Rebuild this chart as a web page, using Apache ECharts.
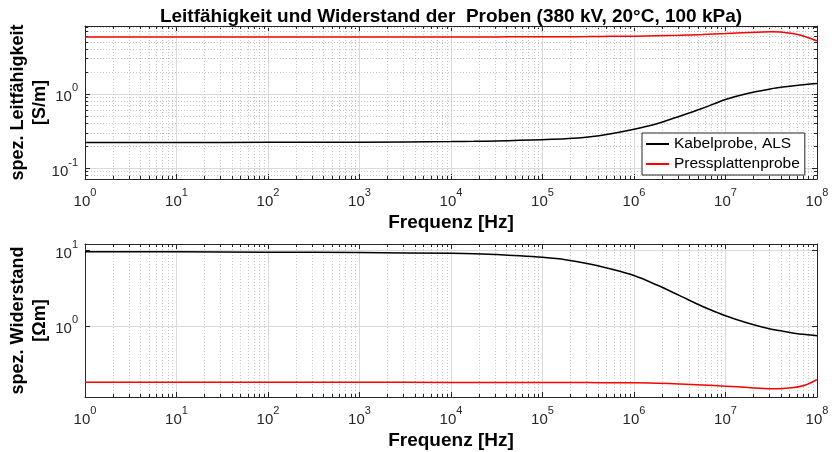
<!DOCTYPE html>
<html><head><meta charset="utf-8">
<script src="https://cdn.jsdelivr.net/npm/echarts@6/dist/echarts.min.js"></script>
<style>html,body{margin:0;padding:0;background:#fff}#c{width:832px;height:452px}</style>
</head><body><div id="c"></div>
<script>
// ---- data ----
const titleText = 'Leitfähigkeit und Widerstand der  Proben (380 kV, 20°C, 100 kPa)';
const seriesNames = ['Kabelprobe, ALS', 'Pressplattenprobe'];
const freq = [1, 10, 100, 1e3, 1e4, 1.78e4, 3.16e4, 5.62e4, 1e5, 1.78e5, 3.16e5, 5.62e5, 1e6, 1.78e6, 3.16e6, 5.62e6, 1e7, 1.78e7, 3.16e7, 4.22e7, 5.62e7, 7.5e7, 1e8];
// spez. Leitfähigkeit [S/m]
const condKabel = [0.221, 0.221, 0.222, 0.223, 0.227, 0.229, 0.232, 0.236, 0.241, 0.248, 0.262, 0.290, 0.333, 0.396, 0.50, 0.64, 0.84, 1.02, 1.17, 1.235, 1.29, 1.34, 1.38];
const condPress = [5.85, 5.85, 5.85, 5.85, 5.85, 5.85, 5.86, 5.87, 5.88, 5.90, 5.92, 5.96, 6.00, 6.06, 6.15, 6.30, 6.50, 6.72, 6.85, 6.78, 6.45, 5.90, 5.20];
// spez. Widerstand [Ohm m]
const resKabel = [9.5, 9.45, 9.35, 9.25, 9.05, 8.95, 8.7, 8.4, 8.0, 7.45, 6.6, 5.6, 4.6, 3.45, 2.5, 1.8, 1.36, 1.08, 0.90, 0.85, 0.80, 0.765, 0.74];
const resPress = [0.180, 0.180, 0.180, 0.180, 0.179, 0.179, 0.179, 0.179, 0.179, 0.178, 0.178, 0.177, 0.177, 0.175, 0.171, 0.166, 0.160, 0.153, 0.148, 0.149, 0.154, 0.166, 0.195];
// axis limits
const xLim = [1, 1e8];
const yLimCond = [0.0711, 8.22];
const yLimRes = [0.115, 12];
// minor grid positions (log decades)
const minorMult = [2, 3, 4, 5, 6, 7, 8, 9];
const xDecades = [1, 10, 100, 1e3, 1e4, 1e5, 1e6, 1e7];
const yDecadesCond = [0.01, 0.1, 1];

const FONT = 'Liberation Sans, Arial, Helvetica, sans-serif';
const AX = '#262626';

const xMinor = [];
xDecades.forEach(d => minorMult.forEach(m => xMinor.push(d * m)));
const yMinorCond = [];
yDecadesCond.forEach(d => minorMult.forEach(m => { const v = d * m; if (v > yLimCond[0] && v < yLimCond[1]) yMinorCond.push(v); }));

function powLabel(v) {
  const e = Math.log10(v); const r = Math.round(e);
  if (Math.abs(e - r) > 1e-6) return '';
  return '{b|10}{s|' + r + '}';
}
const rich = {
  b: {fontSize: 15, lineHeight: 22, verticalAlign: 'bottom', color: AX, fontFamily: FONT},
  s: {fontSize: 11, lineHeight: 11, verticalAlign: 'top', color: AX, fontFamily: FONT}
};
const nameStyle = {fontSize: 18, fontWeight: 'bold', color: '#000', fontFamily: FONT, lineHeight: 22};
const xNameStyle = {fontSize: 19, fontWeight: 'bold', color: '#000', fontFamily: FONT};

function xMain(g) {
  return {type: 'log', logBase: 10, gridIndex: g, min: xLim[0], max: xLim[1], position: 'bottom',
    axisLine: {show: true, onZero: false, lineStyle: {color: AX, width: 1}},
    axisTick: {show: true, inside: true, length: 5, lineStyle: {color: AX}},
    axisLabel: {formatter: powLabel, margin: 8, rich: rich},
    splitLine: {show: true, lineStyle: {color: '#dadada', width: 1}},
    name: 'Frequenz [Hz]', nameLocation: 'middle', nameGap: 34, nameMoveOverlap: false, nameTextStyle: xNameStyle};
}
function xTop(g) {
  return {type: 'log', logBase: 10, gridIndex: g, min: xLim[0], max: xLim[1], position: 'top',
    axisLine: {show: true, onZero: false, lineStyle: {color: AX, width: 1}},
    axisTick: {show: true, inside: true, length: 5, lineStyle: {color: AX}},
    axisLabel: {show: false}, splitLine: {show: false}};
}
function yMain(g, lim, name) {
  return {type: 'log', logBase: 10, gridIndex: g, min: lim[0], max: lim[1], position: 'left',
    axisLine: {show: true, onZero: false, lineStyle: {color: AX, width: 1}},
    axisTick: {show: true, inside: true, length: 5, lineStyle: {color: AX}},
    axisLabel: {formatter: powLabel, margin: 7, rich: rich},
    splitLine: {show: true, lineStyle: {color: '#dadada', width: 1}},
    name: name, nameLocation: 'middle', nameGap: 34, nameRotate: 90, nameMoveOverlap: false, nameTextStyle: nameStyle};
}
function yRight(g, lim) {
  return {type: 'log', logBase: 10, gridIndex: g, min: lim[0], max: lim[1], position: 'right',
    axisLine: {show: true, onZero: false, lineStyle: {color: AX, width: 1}},
    axisTick: {show: true, inside: true, length: 5, lineStyle: {color: AX}},
    axisLabel: {show: false}, splitLine: {show: false}};
}

function crisp(v) { return Math.round(v) + 0.5; }
function xMinorSeries(g, lim) {
  return {type: 'custom', xAxisIndex: 2 * g, yAxisIndex: 2 * g, silent: true, z: 1, clip: false,
    data: xMinor.map(v => [v, lim[0]]),
    renderItem: function (params, api) {
      const v = api.value(0);
      const p0 = api.coord([v, lim[0]]), p1 = api.coord([v, lim[1]]);
      const x = crisp(p0[0]);
      return {type: 'group', children: [
        {type: 'line', shape: {x1: x, y1: p0[1], x2: x, y2: p1[1]}, style: {stroke: '#c4c4c4', lineWidth: 1, lineDash: [1, 2]}},
        {type: 'line', shape: {x1: x, y1: p0[1], x2: x, y2: p0[1] - 3}, style: {stroke: AX, lineWidth: 1}},
        {type: 'line', shape: {x1: x, y1: p1[1], x2: x, y2: p1[1] + 3}, style: {stroke: AX, lineWidth: 1}}
      ]};
    }};
}
function yMinorSeries(g, vals) {
  return {type: 'custom', xAxisIndex: 2 * g, yAxisIndex: 2 * g, silent: true, z: 1, clip: false,
    data: vals.map(v => [xLim[0], v]),
    renderItem: function (params, api) {
      const v = api.value(1);
      const p0 = api.coord([xLim[0], v]), p1 = api.coord([xLim[1], v]);
      const y = crisp(p0[1]);
      return {type: 'group', children: [
        {type: 'line', shape: {x1: p0[0], y1: y, x2: p1[0], y2: y}, style: {stroke: '#c4c4c4', lineWidth: 1, lineDash: [1, 2]}},
        {type: 'line', shape: {x1: p0[0], y1: y, x2: p0[0] + 3, y2: y}, style: {stroke: AX, lineWidth: 1}},
        {type: 'line', shape: {x1: p1[0], y1: y, x2: p1[0] - 3, y2: y}, style: {stroke: AX, lineWidth: 1}}
      ]};
    }};
}
function lineSeries(name, g, vals, color) {
  return {type: 'line', name: name, xAxisIndex: 2 * g, yAxisIndex: 2 * g, z: 3,
    data: freq.map((f, i) => [f, vals[i]]), showSymbol: false, symbol: 'none',
    smooth: 0.3, silent: true,
    lineStyle: {color: color, width: 1.5}, itemStyle: {color: color}};
}

const chart = echarts.init(document.getElementById('c'), null, {renderer: 'canvas'});
chart.setOption({
  animation: false,
  backgroundColor: '#fff',
  textStyle: {fontFamily: FONT},
  grid: [
    {left: 85, top: 26, width: 732, height: 153, containLabel: false, outerBoundsMode: 'none'},
    {left: 85, top: 244, width: 732, height: 153, containLabel: false, outerBoundsMode: 'none'}
  ],
  xAxis: [xMain(0), xTop(0), xMain(1), xTop(1)],
  yAxis: [yMain(0, yLimCond, 'spez. Leitfähigkeit\n[S/m]'), yRight(0, yLimCond),
          yMain(1, yLimRes, 'spez. Widerstand\n[Ωm]'), yRight(1, yLimRes)],
  legend: {data: seriesNames, orient: 'vertical', left: 642, top: 133, padding: [3, 5, 3, 3],
    itemGap: 4, itemWidth: 23, itemHeight: 14, selectedMode: false,
    itemStyle: {opacity: 0},
    backgroundColor: '#fff', borderColor: AX, borderWidth: 1, borderRadius: 0,
    textStyle: {fontSize: 15.5, color: '#000', fontFamily: FONT}},
  graphic: [{type: 'text', x: 451, y: 7, z: 10,
    style: {text: titleText, fontSize: 19, fontWeight: 'bold', fontFamily: FONT, fill: '#000', align: 'center', verticalAlign: 'top'}}],
  series: [
    xMinorSeries(0, yLimCond), yMinorSeries(0, yMinorCond), xMinorSeries(1, yLimRes),
    lineSeries(seriesNames[0], 0, condKabel, '#000000'),
    lineSeries(seriesNames[1], 0, condPress, '#ff0000'),
    lineSeries(seriesNames[0], 1, resKabel, '#000000'),
    lineSeries(seriesNames[1], 1, resPress, '#ff0000')
  ]
});
</script></body></html>
